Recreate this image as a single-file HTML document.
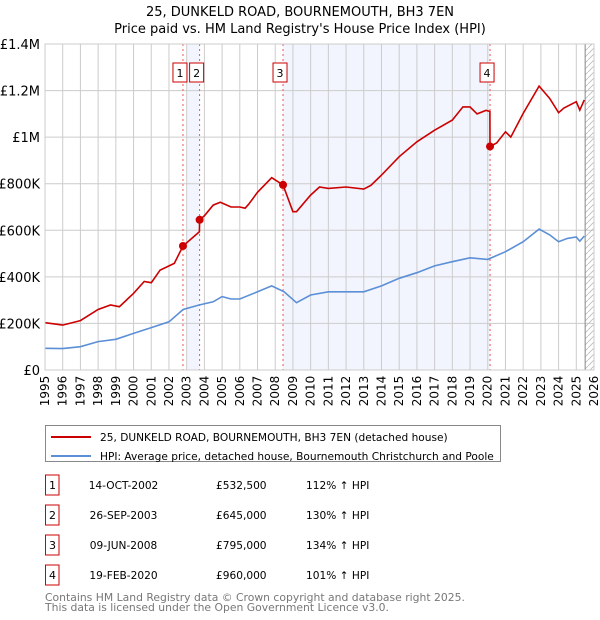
<!DOCTYPE html>
<html><head><meta charset="utf-8"><style>
body{margin:0;background:#fff;font-family:"DejaVu Sans","Liberation Sans",sans-serif;}
#wrap{position:relative;width:600px;height:620px;overflow:hidden;}
svg text{font-family:"DejaVu Sans","Liberation Sans",sans-serif;}
</style></head><body>
<div id="wrap">
<svg id="chart" width="600" height="620"></svg>
</div>
<script>
const yearTicks=[1995,1996,1997,1998,1999,2000,2001,2002,2003,2004,2005,2006,2007,2008,2009,2010,2011,2012,2013,2014,2015,2016,2017,2018,2019,2020,2021,2022,2023,2024,2025,2026];
const valueTicks=[0,200000,400000,600000,800000,1000000,1200000,1400000];
const valueTickLabels=["£0","£200K","£400K","£600K","£800K","£1M","£1.2M","£1.4M"];
const hpiDates=[1995,1996,1997,1998,1999,2000,2001,2002,2002.8,2003.7,2004.5,2005,2005.5,2006,2007,2007.8,2008.5,2009.2,2010,2011,2012,2013,2014,2015,2016,2017,2018,2019,2020,2021,2022,2022.9,2023.5,2024,2024.5,2025,2025.2,2025.45];
const hpiValues=[93,92,100,122,132,157,182,207,260,279,293,315,305,305,336,361,336,289,322,336,336,336,361,394,418,447,465,482,475,508,551,605,580,551,565,571,553,575].map(v=>v*1000);
const priceDates=[1995,1996,1997,1998,1998.7,1999.2,2000,2000.6,2001,2001.5,2002.3,2002.79,2003.72,2003.73,2004,2004.5,2004.9,2005.5,2006,2006.3,2006.5,2007,2007.8,2008.44,2009,2009.2,2010,2010.5,2011,2012,2013,2013.4,2014,2015,2016,2017,2018,2018.6,2019,2019.4,2019.9,2020.12,2020.13,2020.5,2021,2021.3,2022,2022.9,2023.5,2024,2024.3,2025,2025.2,2025.45];
const priceValues=[203,193,212,260,279,272,329,380,375,429,458,532.5,594,645,662,708,720,700,700,695,712,763,826,795,680,680,751,786,780,786,777,793,837,916,980,1030,1073,1130,1130,1100,1115,1110,960,975,1023,1000,1102,1219,1166,1105,1125,1152,1116,1160].map(v=>v*1000);
const saleDates=[2002.79,2003.73,2008.44,2020.13];
const saleValues=[532500,645000,795000,960000];
const saleLabels=["1","2","3","4"];
const saleDateText=["14-OCT-2002","26-SEP-2003","09-JUN-2008","19-FEB-2020"];
const salePriceText=["£532,500","£645,000","£795,000","£960,000"];
const salePctText=["112% ↑ HPI","130% ↑ HPI","134% ↑ HPI","101% ↑ HPI"];

const NS="http://www.w3.org/2000/svg";
const svg=document.getElementById('chart');
const X0=45,X1=594,Y0=370,Y1=44;
const xs=d=>X0+(d-1995)*(X1-X0)/31;
const ys=v=>Y0-v*(Y0-Y1)/1400000;
function mk(tag,attrs,parent){const e=document.createElementNS(NS,tag);for(const k in attrs)e.setAttribute(k,attrs[k]);(parent||svg).appendChild(e);return e;}

let t=mk('text',{x:300,y:16,'text-anchor':'middle','font-size':13,fill:'#000'});t.textContent='25, DUNKELD ROAD, BOURNEMOUTH, BH3 7EN';


t=mk('text',{x:300,y:33,'text-anchor':'middle','font-size':13,fill:'#000'});t.textContent="Price paid vs. HM Land Registry's House Price Index (HPI)";



let s=mk('rect',{x:xs(2003.0),y:Y1,width:xs(saleDates[1])-xs(2003.0),height:Y0-Y1,fill:'#f2f5fd'});


s=mk('rect',{x:xs(saleDates[2]),y:Y1,width:xs(saleDates[3])-xs(saleDates[2]),height:Y0-Y1,fill:'#f2f5fd'});



yearTicks.forEach(y=>{const l=mk('line',{x1:xs(y),x2:xs(y),y1:Y1,y2:Y0,stroke:'#cccccc','stroke-width':1});


const tx=mk('text',{transform:`translate(${xs(y)+4},${Y0+21}) rotate(-90)`,'text-anchor':'middle','font-size':12,fill:'#000'});tx.textContent=y;

});
valueTicks.forEach((v,i)=>{const l=mk('line',{x1:X0,x2:X1,y1:ys(v),y2:ys(v),stroke:'#cccccc','stroke-width':1});


const tx=mk('text',{x:40,y:ys(v)+5,'text-anchor':'end','font-size':13,fill:'#000'});tx.textContent=valueTickLabels[i];

});

const defs=mk('defs',{});
const pat=mk('pattern',{id:'hatch',width:6,height:6,patternUnits:'userSpaceOnUse'},defs);
mk('path',{d:'M0,6 L6,0',stroke:'#bbbbbb','stroke-width':0.8},pat);
s=mk('rect',{x:xs(2025.5),y:Y1,width:X1-xs(2025.5),height:Y0-Y1,fill:'url(#hatch)'});


s=mk('line',{x1:xs(2025.5),x2:xs(2025.5),y1:Y1,y2:Y0,stroke:'#888','stroke-width':1});



saleDates.forEach((d,i)=>{const l=mk('line',{x1:xs(d),x2:xs(d),y1:Y1,y2:Y0,stroke:'#ee5555','stroke-width':1,'stroke-dasharray':'2,3'});

});

const path=(ds,vs)=>ds.map((d,i)=>(i?'L':'M')+xs(d).toFixed(1)+','+ys(vs[i]).toFixed(1)).join(' ');
let p=mk('path',{d:path(hpiDates,hpiValues),fill:'none',stroke:'#5b8fd6','stroke-width':1.6});


p=mk('path',{d:path(priceDates,priceValues),fill:'none',stroke:'#cc0000','stroke-width':1.6});



saleDates.forEach((d,i)=>{const c=mk('circle',{cx:xs(d),cy:ys(saleValues[i]),r:4,fill:'#cc0000'});


const bx=xs(d)-3-7;
const g=mk('g',{});


mk('rect',{x:bx,y:63,width:14,height:19,fill:'#fff',stroke:'#cc0000','stroke-width':1},g);
const tx=mk('text',{x:bx+7,y:77,'text-anchor':'middle','font-size':11,fill:'#000'},g);tx.textContent=saleLabels[i];});

s=mk('rect',{x:X0,y:Y1,width:X1-X0,height:Y0-Y1,fill:'none',stroke:'#cccccc','stroke-width':1});



const lg=mk('g',{});


mk('rect',{x:45.5,y:425.5,width:455,height:36,fill:'#fff',stroke:'#888','stroke-width':1},lg);
mk('line',{x1:51,x2:91,y1:437,y2:437,stroke:'#cc0000','stroke-width':2},lg);
mk('line',{x1:51,x2:91,y1:456,y2:456,stroke:'#5b8fd6','stroke-width':2},lg);
t=mk('text',{x:100,y:441,'font-size':10.6,fill:'#000'},lg);t.textContent='25, DUNKELD ROAD, BOURNEMOUTH, BH3 7EN (detached house)';


t=mk('text',{x:100,y:460,'font-size':10.6,fill:'#000'},lg);t.textContent='HPI: Average price, detached house, Bournemouth Christchurch and Poole';



saleLabels.forEach((lab,i)=>{const cy=485+i*30;
const g=mk('g',{});


mk('rect',{x:45.5,y:cy-10,width:13.5,height:20,fill:'#fff',stroke:'#cc0000','stroke-width':1},g);
let a=mk('text',{x:52.5,y:cy+4,'text-anchor':'middle','font-size':11,fill:'#000'},g);a.textContent=lab;
a=mk('text',{x:123.5,y:cy+4,'text-anchor':'middle','font-size':10.6,fill:'#000'},g);a.textContent=saleDateText[i];
a=mk('text',{x:216,y:cy+4,'font-size':10.6,fill:'#000'},g);a.textContent=salePriceText[i];
a=mk('text',{x:306,y:cy+4,'font-size':10.6,fill:'#000'},g);a.textContent=salePctText[i];});

t=mk('text',{x:45,y:601,'font-size':10.8,fill:'#777'});t.textContent='Contains HM Land Registry data © Crown copyright and database right 2025.';


t=mk('text',{x:45,y:611,'font-size':10.8,fill:'#777'});t.textContent='This data is licensed under the Open Government Licence v3.0.';


</script>
</body></html>
